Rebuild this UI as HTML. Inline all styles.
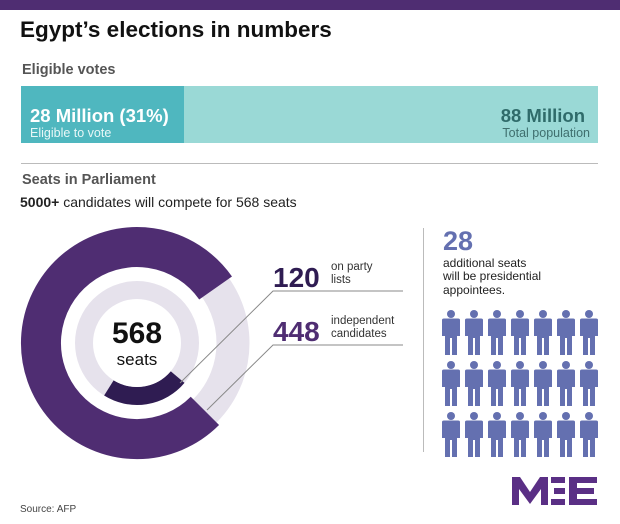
<!DOCTYPE html>
<html><head><meta charset="utf-8"><style>
body{margin:0;width:620px;height:524px;background:#fff;position:relative;overflow:hidden;font-family:"Liberation Sans",sans-serif}
div,span{position:absolute;white-space:nowrap}
</style></head><body>
<div style="left:0;top:0;width:620px;height:10px;background:#4f2d72"></div>
<div style="left:20px;top:17px;font-size:22.5px;font-weight:bold;color:#111">Egypt’s elections in numbers</div>
<div style="left:22px;top:62px;font-size:14.5px;font-weight:bold;color:#555">Eligible votes</div>
<div style="left:21px;top:86px;width:577px;height:57px;background:#9ad9d6"></div>
<div style="left:21px;top:86px;width:163px;height:57px;background:#4fb7bf"></div>
<div style="left:30px;top:105px;font-size:18.5px;font-weight:bold;color:#fff">28 Million (31%)</div>
<div style="left:30px;top:126px;font-size:12.5px;color:#e8f7f7">Eligible to vote</div>
<div style="right:35px;top:105px;font-size:18.5px;font-weight:bold;color:#2f6b6a">88 Million</div>
<div style="right:30px;top:126px;font-size:12.5px;color:#3f6f6e">Total population</div>
<div style="left:21px;top:163px;width:577px;height:1px;background:#bbb"></div>
<div style="left:22px;top:172px;font-size:14.5px;font-weight:bold;color:#555">Seats in Parliament</div>
<div style="left:20px;top:194px;font-size:14px;color:#222"><b>5000+</b> candidates will compete for 568 seats</div>
<svg style="position:absolute;left:0;top:0" width="620" height="524">
<circle cx="137" cy="343" r="96" fill="none" stroke="#e6e2ec" stroke-width="33"/>
<path d="M 204.9 410.9 A 96 96 0 1 1 215.6 288" fill="none" stroke="#4f2d72" stroke-width="40"/>
<circle cx="137" cy="343" r="62" fill="#e6e2ec"/>
<path d="M 177.6 377.1 A 53 53 0 0 1 108.9 387.9" fill="none" stroke="#2f1c52" stroke-width="18"/>
<circle cx="137" cy="343" r="44" fill="#fff"/>
<text x="137" y="343" text-anchor="middle" font-size="30" font-weight="bold" fill="#111" font-family="Liberation Sans">568</text>
<text x="137" y="365" text-anchor="middle" font-size="17" fill="#111" font-family="Liberation Sans">seats</text>
<polyline points="180,383 273,291 403,291" fill="none" stroke="#888" stroke-width="1"/>
<polyline points="207,410 273,345 403,345" fill="none" stroke="#888" stroke-width="1"/>
<text x="273" y="287" font-size="28" font-weight="bold" fill="#2f1c52" font-family="Liberation Sans">120</text>
<text x="331" y="270" font-size="11.5" fill="#333" font-family="Liberation Sans">on party</text>
<text x="331" y="283" font-size="11.5" fill="#333" font-family="Liberation Sans">lists</text>
<text x="273" y="341" font-size="28" font-weight="bold" fill="#4f2d72" font-family="Liberation Sans">448</text>
<text x="331" y="324" font-size="11.5" fill="#333" font-family="Liberation Sans">independent</text>
<text x="331" y="337" font-size="11.5" fill="#333" font-family="Liberation Sans">candidates</text>
<line x1="423.5" y1="228" x2="423.5" y2="452" stroke="#bbb"/>
<text x="443" y="250" font-size="27" font-weight="bold" fill="#6470b0" font-family="Liberation Sans">28</text>
<text x="443" y="267" font-size="12" fill="#222" font-family="Liberation Sans">additional seats</text>
<text x="443" y="280" font-size="12" fill="#222" font-family="Liberation Sans">will be presidential</text>
<text x="443" y="294" font-size="12" fill="#222" font-family="Liberation Sans">appointees.</text>
<defs><g id="p" fill="#6470b0">
<circle cx="11" cy="4" r="4"/>
<path d="M2 10 Q2 8.5 4 8.5 H18 Q20 8.5 20 10 V26 H17 V45 H12 V28 H10 V45 H5 V26 H2 Z"/>
</g></defs>
<use href="#p" x="440" y="310"/><use href="#p" x="463" y="310"/><use href="#p" x="486" y="310"/><use href="#p" x="509" y="310"/><use href="#p" x="532" y="310"/><use href="#p" x="555" y="310"/><use href="#p" x="578" y="310"/>
<use href="#p" x="440" y="361"/><use href="#p" x="463" y="361"/><use href="#p" x="486" y="361"/><use href="#p" x="509" y="361"/><use href="#p" x="532" y="361"/><use href="#p" x="555" y="361"/><use href="#p" x="578" y="361"/>
<use href="#p" x="440" y="412"/><use href="#p" x="463" y="412"/><use href="#p" x="486" y="412"/><use href="#p" x="509" y="412"/><use href="#p" x="532" y="412"/><use href="#p" x="555" y="412"/><use href="#p" x="578" y="412"/>
<g fill="#5a2f85">
<path d="M512 505 V477 H520 L530 492 L540 477 H548 V505 H541 V489 L530 504 L519 489 V505 Z"/>
<rect x="551" y="477" width="14" height="6"/><rect x="554" y="488" width="11" height="6"/><rect x="551" y="499" width="14" height="6"/>
<rect x="569" y="477" width="28" height="6"/><rect x="569" y="477" width="8" height="28"/><rect x="569" y="488" width="25" height="6"/><rect x="569" y="499" width="28" height="6"/>
</g>
<text x="20" y="512" font-size="10" fill="#444" font-family="Liberation Sans">Source: AFP</text>
</svg>
</body></html>
